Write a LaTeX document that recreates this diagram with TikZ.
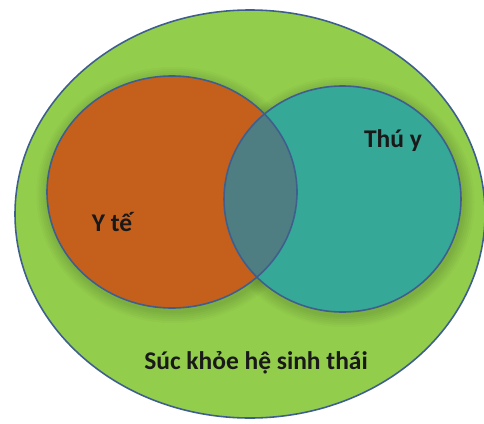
\documentclass[tikz,border=0pt]{standalone}
\usepackage{fontspec}
\setmainfont{Carlito}
\usetikzlibrary{calc}

\definecolor{ecogreen}{HTML}{93CD4C}
\definecolor{humanorange}{HTML}{C4601C}
\definecolor{animalteal}{HTML}{35A898}
\definecolor{overlapteal}{HTML}{4E7D82}
\definecolor{rimblue}{HTML}{3E5F8E}

\tikzset{
  rim/.style={draw=rimblue, line width=0.9pt},
  lbl/.style={font=\fontsize{14.5}{17}\selectfont\bfseries, text=black!90, anchor=base, inner sep=0pt}
}

\begin{document}
\begin{tikzpicture}
      \useasboundingbox (0,0) rectangle (9.68,-8.46);
      \clip (0,0) rectangle (9.68,-8.46);

      % ecosystem health
      \fill[ecogreen] (5.0,-4.28) ellipse (4.7cm and 4.08cm);

      % soft shade under the two circles
      \foreach \k in {1,...,6} {
        \fill[black, opacity=0.025] (3.47,-3.9) ellipse ({2.5cm+\k*0.04cm} and {2.32cm+\k*0.04cm});
        \fill[black, opacity=0.025] (6.88,-4.04) ellipse ({2.37cm+\k*0.04cm} and {2.26cm+\k*0.04cm});
      }
      \draw[rim] (5.0,-4.28) ellipse (4.7cm and 4.08cm);

      % human health and animal health
      \fill[humanorange] (3.44,-3.84) ellipse (2.5cm and 2.32cm);
      \fill[animalteal] (6.85,-3.98) ellipse (2.37cm and 2.26cm);
      \begin{scope}
        \clip (3.44,-3.84) ellipse (2.5cm and 2.32cm);
        \fill[overlapteal] (6.85,-3.98) ellipse (2.37cm and 2.26cm);
      \end{scope}
      \draw[rim] (3.44,-3.84) ellipse (2.5cm and 2.32cm);
      \draw[rim] (6.85,-3.98) ellipse (2.37cm and 2.26cm);

      \node[lbl] (yte) at (2.24, -4.62) {Y tế};
      \node[lbl] (thuy) at (7.86, -2.94) {Thú y};
      \node[lbl] (stht) at (5.12, -7.38) {Súc khỏe hệ sinh thái};
\end{tikzpicture}
\end{document}
